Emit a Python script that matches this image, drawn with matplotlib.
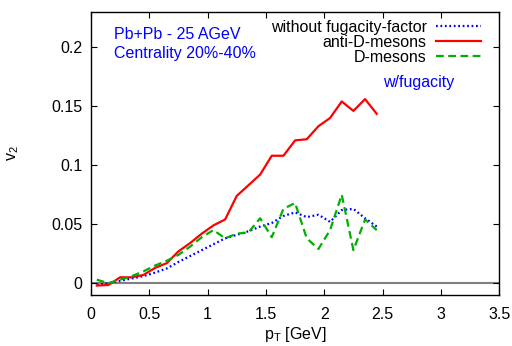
import matplotlib
matplotlib.use('Agg')
import matplotlib.pyplot as plt

plt.rcParams['font.family'] = ['Liberation Sans', 'DejaVu Sans']
plt.rcParams['mathtext.fontset'] = 'custom'
plt.rcParams['mathtext.rm'] = 'Liberation Sans'
plt.rcParams['mathtext.it'] = 'Liberation Sans'

pt = [0.05, 0.15, 0.25, 0.35, 0.45, 0.55, 0.65, 0.75, 0.85, 0.95,
      1.05, 1.15, 1.25, 1.35, 1.45, 1.55, 1.65, 1.75, 1.85, 1.95,
      2.05, 2.15, 2.25, 2.35, 2.45]

# without fugacity factor
v2_nofug = [-0.0015, 0.0, 0.002, 0.004, 0.006, 0.009, 0.0125, 0.018, 0.023, 0.028,
            0.033, 0.038, 0.041, 0.044, 0.048, 0.051, 0.057, 0.060, 0.056, 0.058,
            0.052, 0.062, 0.063, 0.055, 0.048]

v2_antiD = [-0.002, -0.0015, 0.005, 0.005, 0.007, 0.013, 0.017, 0.027, 0.034, 0.042,
            0.049, 0.054, 0.074, 0.083, 0.092, 0.108, 0.108, 0.121, 0.122, 0.133,
            0.140, 0.154, 0.146, 0.156, 0.1435]

v2_D = [0.003, 0.0, 0.003, 0.006, 0.010, 0.015, 0.019, 0.024, 0.031, 0.039,
        0.045, 0.038, 0.042, 0.043, 0.055, 0.039, 0.063, 0.068, 0.038, 0.029,
        0.045, 0.075, 0.028, 0.054, 0.045]

fig = plt.figure(figsize=(5.12, 3.46), dpi=100)
ax = fig.add_axes([0.1777, 0.1474, 0.975 - 0.1777, 0.966 - 0.1474])

ax.axhline(0, color='#808080', lw=1.5, zorder=1)
ax.plot(pt, v2_nofug, color='#0000ff', lw=1.6, ls=(0, (0.8, 1.2)),
        label='without fugacity-factor')
ax.plot(pt, v2_antiD, color='#ff0000', lw=1.6, label='anti-D-mesons')
ax.plot(pt, v2_D, color='#00b000', lw=1.6, ls=(0, (3.5, 2)), label='D-mesons')

ax.set_xlim(0, 3.5)
ax.set_ylim(-0.01, 0.23)
ax.set_xticks([0, 0.5, 1, 1.5, 2, 2.5, 3, 3.5])
ax.set_xticklabels(['0', '0.5', '1', '1.5', '2', '2.5', '3', '3.5'])
ax.set_yticks([0, 0.05, 0.1, 0.15, 0.2])
ax.set_yticklabels(['0', '0.05', '0.1', '0.15', '0.2'])
ax.tick_params(direction='in', top=True, right=True, length=4, labelsize=11.5)
ax.tick_params(axis='x', pad=9)
ax.tick_params(axis='y', pad=6)
for s in ax.spines.values():
    s.set_linewidth(1.0)

ax.set_xlabel('p$_{\\mathrm{T}}$ [GeV]', fontsize=11.5, labelpad=2)
ax.set_ylabel('v$_2$', fontsize=11.5, labelpad=22)

leg = ax.legend(loc='upper right', frameon=False, markerfirst=False,
                fontsize=11.5, handlelength=2.8, borderaxespad=0.1,
                labelspacing=0.0, handletextpad=0.6,
                bbox_to_anchor=(0.975, 1.0))
for t in leg.get_texts():
    t.set_ha('right')

ax.text(0.057, 0.918, 'Pb+Pb - 25 AGeV', transform=ax.transAxes,
        color='#0000ff', fontsize=11.5, va='center', ha='left')
ax.text(0.057, 0.853, 'Centrality 20%-40%', transform=ax.transAxes,
        color='#0000ff', fontsize=11.5, va='center', ha='left')
ax.text(0.715, 0.749, 'w/fugacity', transform=ax.transAxes, color='#0000ff',
        fontsize=11.5, va='center', ha='left')

fig.savefig('out.png', dpi=100)
